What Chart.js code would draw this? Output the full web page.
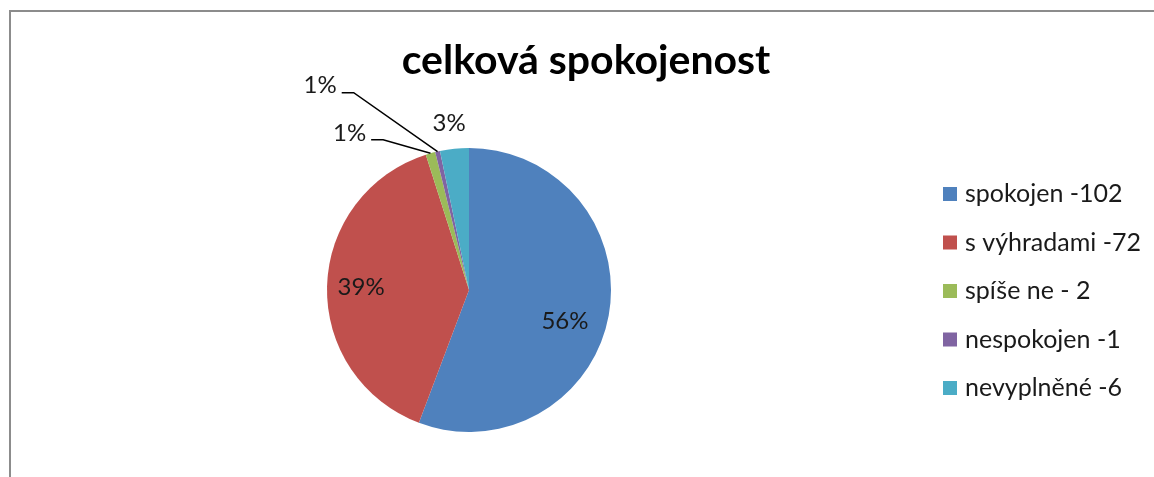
<!DOCTYPE html>
<html>
<head>
<meta charset="utf-8">
<script src="https://cdn.jsdelivr.net/npm/chart.js"></script>
<style>
  html, body { margin: 0; padding: 0; background: #fff; }
  canvas { display: block; }
</style>
</head>
<body>
<canvas id="pie" width="1154" height="477"></canvas>
<script>
const chartTitle = "celková spokojenost";
const categories = ["spokojen", "s výhradami", "spíše ne", "nespokojen", "nevyplněné"];
const counts = [102, 72, 2, 1, 6];
const legendLabels = ["spokojen -102", "s výhradami -72", "spíše ne - 2", "nespokojen -1", "nevyplněné -6"];
const sliceColors = ["#4f81bd", "#c0504d", "#9bbb59", "#8064a2", "#4bacc6"];

// r = share of the radius, shift = degrees past the middle of the slice
const labelPlacement = [
  { r: 0.71, shift: 7.6 },
  { r: 0.76, shift: 0 },
  { r: 1.39, shift: -21.5, leader: true },
  { r: 1.78, shift: -23.3, leader: true },
  { r: 1.18, shift: -0.9 },
];

const FONT = "Lato, 'Open Sans', sans-serif";
const total = counts.reduce((a, b) => a + b, 0);

// grey frame round the chart
const frame = {
  id: "frame",
  beforeDraw(chart) {
    const ctx = chart.ctx;
    ctx.save();
    ctx.strokeStyle = "#8c8c8c";
    ctx.lineWidth = 2;
    ctx.beginPath();
    ctx.moveTo(10, chart.height + 5);
    ctx.lineTo(10, 11);
    ctx.lineTo(chart.width + 5, 11);
    ctx.stroke();
    ctx.restore();
  }
};

// title, percentages with leader lines, legend
const decorations = {
  id: "decorations",
  afterDatasetsDraw(chart) {
    const ctx = chart.ctx;
    const arcs = chart.getDatasetMeta(0).data;
    ctx.save();
    ctx.font = "24px " + FONT;
    ctx.fillStyle = "#1a1a1a";
    ctx.textAlign = "center";
    ctx.textBaseline = "middle";
    arcs.forEach((arc, i) => {
      const p = arc.getProps(["x", "y", "startAngle", "endAngle", "outerRadius"], true);
      const mid = (p.startAngle + p.endAngle) / 2;
      const place = labelPlacement[i];
      const a = mid + place.shift * Math.PI / 180;
      const lx = p.x + Math.cos(a) * p.outerRadius * place.r;
      const ly = p.y + Math.sin(a) * p.outerRadius * place.r;
      const text = Math.round(counts[i] / total * 100) + "%";
      ctx.fillText(text, lx, ly);
      if (place.leader) {
        const w = ctx.measureText(text).width;
        const sx = lx + w / 2 + 5;
        const sy = ly + 7;
        ctx.strokeStyle = "#000";
        ctx.lineWidth = 1.5;
        ctx.beginPath();
        ctx.moveTo(sx, sy);
        ctx.lineTo(sx + 12, sy);
        ctx.lineTo(p.x + Math.cos(mid) * p.outerRadius, p.y + Math.sin(mid) * p.outerRadius);
        ctx.stroke();
      }
    });
    ctx.restore();
  },
  afterDraw(chart) {
    const ctx = chart.ctx;
    ctx.save();
    ctx.fillStyle = "#000";
    ctx.font = "bold 41px " + FONT;
    ctx.textAlign = "center";
    ctx.textBaseline = "alphabetic";
    ctx.fillText(chartTitle, 586, 74);

    ctx.font = "25px " + FONT;
    ctx.textAlign = "left";
    ctx.textBaseline = "middle";
    legendLabels.forEach((label, i) => {
      const y = 194 + i * 48.5;
      ctx.fillStyle = sliceColors[i];
      ctx.fillRect(943, y - 7, 14, 14);
      ctx.fillStyle = "#1a1a1a";
      ctx.fillText(label, 965, y);
    });
    ctx.restore();
  }
};

new Chart(document.getElementById("pie"), {
  type: "pie",
  data: {
    labels: categories,
    datasets: [{
      data: counts,
      backgroundColor: sliceColors,
      borderWidth: 0,
    }],
  },
  options: {
    responsive: false,
    animation: false,
    layout: { padding: { left: 327, right: 543, top: 148, bottom: 45 } },
    plugins: {
      legend: { display: false },
      tooltip: { enabled: false },
      title: { display: false },
    },
  },
  plugins: [frame, decorations],
});
</script>
</body>
</html>
